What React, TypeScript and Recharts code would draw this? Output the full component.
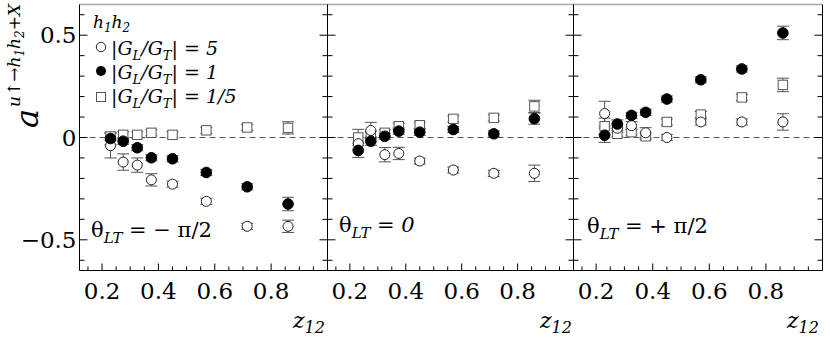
import React from 'react';
import { ScatterChart, Scatter, XAxis, YAxis, ReferenceLine, ErrorBar } from 'recharts';

// z12 bins (same in every panel)
const zBins = [0.23, 0.275, 0.325, 0.375, 0.45, 0.57, 0.715, 0.86];

// theta_LT = -pi/2
const openMinus = [-0.04, -0.12, -0.135, -0.207, -0.228, -0.312, -0.434, -0.434];
const openMinusErr = [0.06, 0.04, 0.035, 0.03, 0.015, 0.015, 0.015, 0.03];
const filledMinus = [-0.005, -0.018, -0.05, -0.099, -0.104, -0.171, -0.241, -0.325];
const filledMinusErr = [0.03, 0.015, 0.015, 0.015, 0.015, 0.015, 0.015, 0.033];
const squareMinus = [0.005, 0.013, 0.013, 0.023, 0.013, 0.035, 0.049, 0.047];
const squareMinusErr = [0.02, 0.015, 0.015, 0.015, 0.015, 0.015, 0.015, 0.03];

// theta_LT = 0
const openZero = [-0.03, 0.034, -0.084, -0.078, -0.115, -0.159, -0.175, -0.175];
const openZeroErr = [0.03, 0.04, 0.035, 0.03, 0.015, 0.015, 0.015, 0.04];
const filledZero = [-0.063, -0.018, 0.006, 0.031, 0.026, 0.039, 0.018, 0.092];
const filledZeroErr = [0.035, 0.02, 0.015, 0.015, 0.015, 0.015, 0.015, 0.027];
const squareZero = [0.0, 0.015, 0.023, 0.055, 0.06, 0.091, 0.096, 0.152];
const squareZeroErr = [0.04, 0.015, 0.015, 0.015, 0.015, 0.015, 0.015, 0.03];

// theta_LT = +pi/2
const openPlus = [0.117, 0.045, 0.058, 0.023, 0.0, 0.076, 0.076, 0.076];
const openPlusErr = [0.06, 0.02, 0.02, 0.025, 0.015, 0.015, 0.015, 0.04];
const filledPlus = [0.011, 0.066, 0.108, 0.123, 0.188, 0.282, 0.335, 0.511];
const filledPlusErr = [0.035, 0.02, 0.015, 0.015, 0.015, 0.015, 0.015, 0.033];
const squarePlus = [0.055, 0.018, 0.026, 0.006, 0.076, 0.112, 0.196, 0.257];
const squarePlusErr = [0.04, 0.015, 0.015, 0.015, 0.015, 0.015, 0.015, 0.033];

const xTickLabels = [0.2, 0.4, 0.6, 0.8];
const xMinorTicks = [0.15, 0.2, 0.25, 0.3, 0.35, 0.4, 0.45, 0.5, 0.55, 0.6, 0.65, 0.7, 0.75, 0.8, 0.85, 0.9, 0.95];
const yTickLabels = [-0.5, 0, 0.5];
const yMinorTicks = [-0.6, -0.5, -0.4, -0.3, -0.2, -0.1, 0, 0.1, 0.2, 0.3, 0.4, 0.5, 0.6];

const X_DOMAIN: [number, number] = [0.12, 1.0];
const Y_DOMAIN: [number, number] = [-0.65, 0.65];
const FONT = "'DejaVu Serif', 'Liberation Serif', serif";

const toRows = (vals: number[], errs: number[]) =>
  zBins.map((z, i) => ({ z, a: vals[i], err: errs[i] }));

const OpenDot = (p: any) => <circle cx={p.cx} cy={p.cy} r={5} fill="#fff" stroke="#222" strokeWidth={1} />;
const FilledDot = (p: any) => <circle cx={p.cx} cy={p.cy} r={5.3} fill="#000" stroke="#000" strokeWidth={1} />;
const SquareDot = (p: any) => (
  <rect x={p.cx - 4.7} y={p.cy - 4.7} width={9.4} height={9.4} fill="#fff" stroke="#555" strokeWidth={1} />
);

const fmt = (v: number) => (v < 0 ? '\u2212' + Math.abs(v) : String(v));
const black = { stroke: '#000', strokeWidth: 1 };

const isMajorX = (v: number) => xTickLabels.some((t) => Math.abs(t - v) < 1e-6);
const isMajorY = (v: number) => yTickLabels.some((t) => Math.abs(t - v) < 1e-6);

// ticks point into the plot; labels only at the major values
const leftTick = (withLabel: boolean) => (p: any) => {
  const v = p.payload.value;
  const major = isMajorY(v);
  return (
    <g>
      <line x1={p.x} x2={p.x + (major ? 8 : 5)} y1={p.y} y2={p.y} stroke="#000" />
      {withLabel && major && (
        <text x={p.x - 3} y={p.y} dy="0.35em" textAnchor="end" fontFamily={FONT} fontSize={23} fill="#000">
          {fmt(v)}
        </text>
      )}
    </g>
  );
};
const RightTick = (p: any) => {
  const len = isMajorY(p.payload.value) ? 8 : 5;
  return <line x1={p.x} x2={p.x - len} y1={p.y} y2={p.y} stroke="#000" />;
};
const BottomTick = (p: any) => {
  const v = p.payload.value;
  const major = isMajorX(v);
  return (
    <g>
      <line x1={p.x} x2={p.x} y1={p.y} y2={p.y - (major ? 7 : 4)} stroke="#000" />
      {major && (
        <text x={p.x} y={p.y + 28} textAnchor="middle" fontFamily={FONT} fontSize={23} fill="#000">
          {String(v)}
        </text>
      )}
    </g>
  );
};

interface PanelProps {
  left: number;
  width: number;
  wLeft: number;
  wRight: number;
  labels?: boolean;
  open: any[];
  filled: any[];
  square: any[];
}

const Panel: React.FC<PanelProps> = ({ left, width, wLeft, wRight, labels, open, filled, square }) => {
  const errBar = <ErrorBar dataKey="err" direction="y" width={6} stroke="#555" strokeWidth={1} />;
  const common = { type: 'number' as const, allowDataOverflow: true, interval: 0 as const };
  return (
    <div style={{ position: 'absolute', left, top: 0 }}>
      <ScatterChart width={width} height={338} margin={{ top: 4.5, right: 0, bottom: 0.5, left: 0 }}>
        <XAxis xAxisId="lab" {...common} dataKey="z" domain={X_DOMAIN} ticks={xMinorTicks}
          height={67} tickLine={false} axisLine={false} tickSize={0} tickMargin={0} tick={BottomTick} />
        <XAxis xAxisId="frame" {...common} dataKey="z" domain={X_DOMAIN} ticks={xTickLabels}
          mirror height={1} tick={false} axisLine={black} tickLine={false} />
        <XAxis xAxisId="top" {...common} dataKey="z" domain={X_DOMAIN} orientation="top" mirror height={1}
          tick={false} tickLine={false} axisLine={{ stroke: '#aaa', strokeWidth: 1.5 }} />
        <YAxis yAxisId="ticksL" {...common} domain={Y_DOMAIN} ticks={yMinorTicks} width={wLeft}
          tickLine={false} axisLine={false} tickSize={0} tickMargin={0} tick={leftTick(!!labels)} />
        <YAxis yAxisId="ticksR" {...common} orientation="right" domain={Y_DOMAIN} ticks={yMinorTicks} width={wRight}
          tickLine={false} axisLine={false} tickSize={0} tickMargin={0} tick={RightTick} />
        <YAxis yAxisId="plot" {...common} domain={Y_DOMAIN} ticks={yTickLabels} mirror width={1}
          tick={false} axisLine={black} tickLine={false} />
        <YAxis yAxisId="frameR" {...common} orientation="right" domain={Y_DOMAIN} ticks={yTickLabels}
          mirror width={1} tick={false} axisLine={black} tickLine={false} />
        <ReferenceLine xAxisId="lab" yAxisId="plot" y={0} stroke="#555" strokeDasharray="6 4" />
        <Scatter xAxisId="lab" yAxisId="plot" data={square} dataKey="a" shape={SquareDot} isAnimationActive={false}>
          {errBar}
        </Scatter>
        <Scatter xAxisId="lab" yAxisId="plot" data={open} dataKey="a" shape={OpenDot} isAnimationActive={false}>
          {errBar}
        </Scatter>
        <Scatter xAxisId="lab" yAxisId="plot" data={filled} dataKey="a" shape={FilledDot} isAnimationActive={false}>
          {errBar}
        </Scatter>
      </ScatterChart>
    </div>
  );
};

// "|G_L/G_T| = value" in italic with subscripts
const RatioText = ({ y, value }: { y: number; value: string }) => (
  <text x={111} y={y} fontSize={19} fontStyle="italic">
    |G<tspan fontSize={13} dy={5}>L</tspan><tspan dy={-5}>/G</tspan><tspan fontSize={13} dy={5}>T</tspan>
    <tspan dy={-5}>| = {value}</tspan>
  </text>
);

const ZLabel = ({ x }: { x: number }) => (
  <text x={x} y={328} fontSize={22} fontStyle="italic">
    z<tspan fontSize={16} dy={5}>12</tspan>
  </text>
);

const Annotations = () => (
  <svg width={830} height={338} style={{ position: 'absolute', left: 0, top: 0, pointerEvents: 'none', fontFamily: FONT }}
    fontFamily={FONT}>
    {/* y-axis title */}
    <g transform="translate(38,128) rotate(-90)">
      <text x={0} y={0} fontSize={32} fontStyle="italic">a</text>
      <text x={21} y={-18} fontSize={17} fontStyle="italic">
        u{'\u2191'}{'\u2192'}h<tspan fontSize={12} dy={4}>1</tspan><tspan dy={-4}>h</tspan>
        <tspan fontSize={12} dy={4}>2</tspan><tspan dy={-4}>+X</tspan>
      </text>
    </g>

    {/* legend */}
    <text x={93} y={28} fontSize={17} fontStyle="italic">
      h<tspan fontSize={12} dy={4}>1</tspan><tspan dy={-4}>h</tspan><tspan fontSize={12} dy={4}>2</tspan>
    </text>
    <circle cx={101} cy={47} r={4.7} fill="#fff" stroke="#222" />
    <RatioText y={55} value="5" />
    <circle cx={101} cy={71} r={5} fill="#000" />
    <RatioText y={79} value="1" />
    <rect x={96.5} y={92.5} width={9} height={9} fill="#fff" stroke="#555" />
    <RatioText y={103} value="1/5" />

    {/* panel labels */}
    <text x={91} y={237} fontSize={21}>
      θ<tspan fontSize={15} fontStyle="italic" dy={6}>LT</tspan><tspan dy={-6}> = − π/2</tspan>
    </text>
    <text x={339} y={232} fontSize={21}>
      θ<tspan fontSize={15} fontStyle="italic" dy={6}>LT</tspan><tspan dy={-6}> = </tspan>
      <tspan fontStyle="italic">0</tspan>
    </text>
    <text x={587} y={233} fontSize={21}>
      θ<tspan fontSize={15} fontStyle="italic" dy={6}>LT</tspan><tspan dy={-6}> = + π/2</tspan>
    </text>

    <ZLabel x={293} />
    <ZLabel x={540} />
    <ZLabel x={787} />
  </svg>
);

const App: React.FC = () => {
  return (
    <div style={{ position: 'absolute', left: 0, top: 0, width: 830, height: 338, background: '#fff' }}>
      <Panel left={0} width={330} wLeft={79.5} wRight={2.5} labels
        open={toRows(openMinus, openMinusErr)} filled={toRows(filledMinus, filledMinusErr)}
        square={toRows(squareMinus, squareMinusErr)} />
      <Panel left={317} width={267} wLeft={10.5} wRight={10.5}
        open={toRows(openZero, openZeroErr)} filled={toRows(filledZero, filledZeroErr)}
        square={toRows(squareZero, squareZeroErr)} />
      <Panel left={564} width={268} wLeft={9.5} wRight={9.5}
        open={toRows(openPlus, openPlusErr)} filled={toRows(filledPlus, filledPlusErr)}
        square={toRows(squarePlus, squarePlusErr)} />
      <Annotations />
    </div>
  );
};

export default App;
